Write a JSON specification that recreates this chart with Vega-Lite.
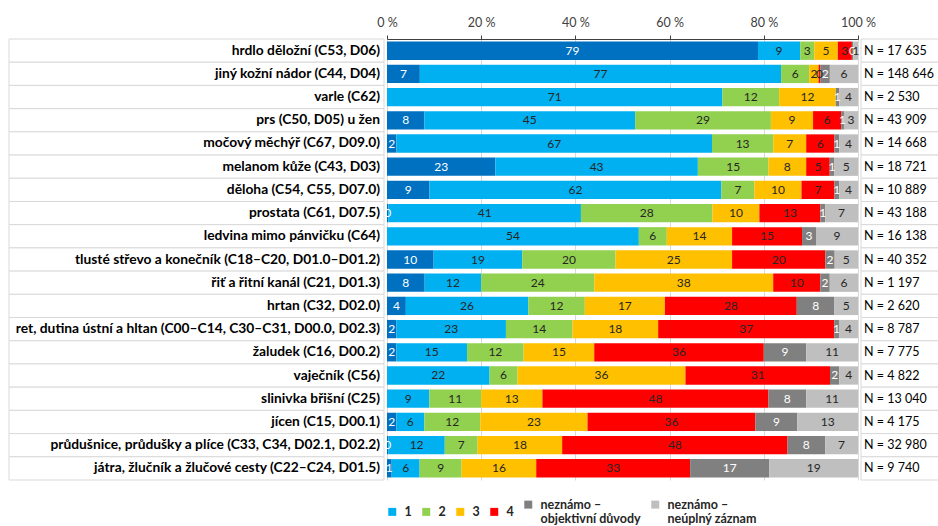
{
  "$schema": "https://vega.github.io/schema/vega-lite/v6.json",
  "background": "white",
  "padding": {"left": 8, "top": 16, "right": 0, "bottom": 0},
  "spacing": 3,
  "bounds": "flush",
  "config": {"view": {"stroke": null}, "font": "Lato"},
  "resolve": {"scale": {"y": "independent"}},
  "datasets": {
    "rows": [
      {"label": "hrdlo děložní (C53, D06)", "n": "N = 17 635"},
      {"label": "jiný kožní nádor (C44, D04)", "n": "N = 148 646"},
      {"label": "varle (C62)", "n": "N = 2 530"},
      {"label": "prs (C50, D05) u žen", "n": "N = 43 909"},
      {"label": "močový měchýř (C67, D09.0)", "n": "N = 14 668"},
      {"label": "melanom kůže (C43, D03)", "n": "N = 18 721"},
      {"label": "děloha (C54, C55, D07.0)", "n": "N = 10 889"},
      {"label": "prostata (C61, D07.5)", "n": "N = 43 188"},
      {"label": "ledvina mimo pánvičku (C64)", "n": "N = 16 138"},
      {"label": "tlusté střevo a konečník (C18–C20, D01.0–D01.2)", "n": "N = 40 352"},
      {"label": "řiť a řitní kanál (C21, D01.3)", "n": "N = 1 197"},
      {"label": "hrtan (C32, D02.0)", "n": "N = 2 620"},
      {"label": "ret, dutina ústní a hltan (C00–C14, C30–C31, D00.0, D02.3)", "n": "N = 8 787"},
      {"label": "žaludek (C16, D00.2)", "n": "N = 7 775"},
      {"label": "vaječník (C56)", "n": "N = 4 822"},
      {"label": "slinivka břišní (C25)", "n": "N = 13 040"},
      {"label": "jícen (C15, D00.1)", "n": "N = 4 175"},
      {"label": "průdušnice, průdušky a plíce (C33, C34, D02.1, D02.2)", "n": "N = 32 980"},
      {"label": "játra, žlučník a žlučové cesty (C22–C24, D01.5)", "n": "N = 9 740"}
    ],
    "seg": [
      {"label": "hrdlo děložní (C53, D06)", "cat": "0", "v": 79},
      {"label": "hrdlo děložní (C53, D06)", "cat": "1", "v": 9},
      {"label": "hrdlo děložní (C53, D06)", "cat": "2", "v": 3},
      {"label": "hrdlo děložní (C53, D06)", "cat": "3", "v": 5},
      {"label": "hrdlo děložní (C53, D06)", "cat": "4", "v": 3},
      {"label": "hrdlo děložní (C53, D06)", "cat": "neznámo – objektivní důvody", "v": 0.3},
      {"label": "hrdlo děložní (C53, D06)", "cat": "neznámo – neúplný záznam", "v": 1},

      {"label": "jiný kožní nádor (C44, D04)", "cat": "0", "v": 7},
      {"label": "jiný kožní nádor (C44, D04)", "cat": "1", "v": 77},
      {"label": "jiný kožní nádor (C44, D04)", "cat": "2", "v": 6},
      {"label": "jiný kožní nádor (C44, D04)", "cat": "3", "v": 2},
      {"label": "jiný kožní nádor (C44, D04)", "cat": "4", "v": 0.4},
      {"label": "jiný kožní nádor (C44, D04)", "cat": "neznámo – objektivní důvody", "v": 2},
      {"label": "jiný kožní nádor (C44, D04)", "cat": "neznámo – neúplný záznam", "v": 6},

      {"label": "varle (C62)", "cat": "1", "v": 71},
      {"label": "varle (C62)", "cat": "2", "v": 12},
      {"label": "varle (C62)", "cat": "3", "v": 12},
      {"label": "varle (C62)", "cat": "neznámo – objektivní důvody", "v": 0.7},
      {"label": "varle (C62)", "cat": "neznámo – neúplný záznam", "v": 4},

      {"label": "prs (C50, D05) u žen", "cat": "0", "v": 8},
      {"label": "prs (C50, D05) u žen", "cat": "1", "v": 45},
      {"label": "prs (C50, D05) u žen", "cat": "2", "v": 29},
      {"label": "prs (C50, D05) u žen", "cat": "3", "v": 9},
      {"label": "prs (C50, D05) u žen", "cat": "4", "v": 6},
      {"label": "prs (C50, D05) u žen", "cat": "neznámo – objektivní důvody", "v": 0.6},
      {"label": "prs (C50, D05) u žen", "cat": "neznámo – neúplný záznam", "v": 3},

      {"label": "močový měchýř (C67, D09.0)", "cat": "0", "v": 2},
      {"label": "močový měchýř (C67, D09.0)", "cat": "1", "v": 67},
      {"label": "močový měchýř (C67, D09.0)", "cat": "2", "v": 13},
      {"label": "močový měchýř (C67, D09.0)", "cat": "3", "v": 7},
      {"label": "močový měchýř (C67, D09.0)", "cat": "4", "v": 6},
      {"label": "močový měchýř (C67, D09.0)", "cat": "neznámo – objektivní důvody", "v": 1},
      {"label": "močový měchýř (C67, D09.0)", "cat": "neznámo – neúplný záznam", "v": 4},

      {"label": "melanom kůže (C43, D03)", "cat": "0", "v": 23},
      {"label": "melanom kůže (C43, D03)", "cat": "1", "v": 43},
      {"label": "melanom kůže (C43, D03)", "cat": "2", "v": 15},
      {"label": "melanom kůže (C43, D03)", "cat": "3", "v": 8},
      {"label": "melanom kůže (C43, D03)", "cat": "4", "v": 5},
      {"label": "melanom kůže (C43, D03)", "cat": "neznámo – objektivní důvody", "v": 1},
      {"label": "melanom kůže (C43, D03)", "cat": "neznámo – neúplný záznam", "v": 5},

      {"label": "děloha (C54, C55, D07.0)", "cat": "0", "v": 9},
      {"label": "děloha (C54, C55, D07.0)", "cat": "1", "v": 62},
      {"label": "děloha (C54, C55, D07.0)", "cat": "2", "v": 7},
      {"label": "děloha (C54, C55, D07.0)", "cat": "3", "v": 10},
      {"label": "děloha (C54, C55, D07.0)", "cat": "4", "v": 7},
      {"label": "děloha (C54, C55, D07.0)", "cat": "neznámo – objektivní důvody", "v": 1},
      {"label": "děloha (C54, C55, D07.0)", "cat": "neznámo – neúplný záznam", "v": 4},

      {"label": "prostata (C61, D07.5)", "cat": "0", "v": 0.3},
      {"label": "prostata (C61, D07.5)", "cat": "1", "v": 41},
      {"label": "prostata (C61, D07.5)", "cat": "2", "v": 28},
      {"label": "prostata (C61, D07.5)", "cat": "3", "v": 10},
      {"label": "prostata (C61, D07.5)", "cat": "4", "v": 13},
      {"label": "prostata (C61, D07.5)", "cat": "neznámo – objektivní důvody", "v": 1},
      {"label": "prostata (C61, D07.5)", "cat": "neznámo – neúplný záznam", "v": 7},

      {"label": "ledvina mimo pánvičku (C64)", "cat": "1", "v": 54},
      {"label": "ledvina mimo pánvičku (C64)", "cat": "2", "v": 6},
      {"label": "ledvina mimo pánvičku (C64)", "cat": "3", "v": 14},
      {"label": "ledvina mimo pánvičku (C64)", "cat": "4", "v": 15},
      {"label": "ledvina mimo pánvičku (C64)", "cat": "neznámo – objektivní důvody", "v": 3},
      {"label": "ledvina mimo pánvičku (C64)", "cat": "neznámo – neúplný záznam", "v": 9},

      {"label": "tlusté střevo a konečník (C18–C20, D01.0–D01.2)", "cat": "0", "v": 10},
      {"label": "tlusté střevo a konečník (C18–C20, D01.0–D01.2)", "cat": "1", "v": 19},
      {"label": "tlusté střevo a konečník (C18–C20, D01.0–D01.2)", "cat": "2", "v": 20},
      {"label": "tlusté střevo a konečník (C18–C20, D01.0–D01.2)", "cat": "3", "v": 25},
      {"label": "tlusté střevo a konečník (C18–C20, D01.0–D01.2)", "cat": "4", "v": 20},
      {"label": "tlusté střevo a konečník (C18–C20, D01.0–D01.2)", "cat": "neznámo – objektivní důvody", "v": 2},
      {"label": "tlusté střevo a konečník (C18–C20, D01.0–D01.2)", "cat": "neznámo – neúplný záznam", "v": 5},

      {"label": "řiť a řitní kanál (C21, D01.3)", "cat": "0", "v": 8},
      {"label": "řiť a řitní kanál (C21, D01.3)", "cat": "1", "v": 12},
      {"label": "řiť a řitní kanál (C21, D01.3)", "cat": "2", "v": 24},
      {"label": "řiť a řitní kanál (C21, D01.3)", "cat": "3", "v": 38},
      {"label": "řiť a řitní kanál (C21, D01.3)", "cat": "4", "v": 10},
      {"label": "řiť a řitní kanál (C21, D01.3)", "cat": "neznámo – objektivní důvody", "v": 2},
      {"label": "řiť a řitní kanál (C21, D01.3)", "cat": "neznámo – neúplný záznam", "v": 6},

      {"label": "hrtan (C32, D02.0)", "cat": "0", "v": 4},
      {"label": "hrtan (C32, D02.0)", "cat": "1", "v": 26},
      {"label": "hrtan (C32, D02.0)", "cat": "2", "v": 12},
      {"label": "hrtan (C32, D02.0)", "cat": "3", "v": 17},
      {"label": "hrtan (C32, D02.0)", "cat": "4", "v": 28},
      {"label": "hrtan (C32, D02.0)", "cat": "neznámo – objektivní důvody", "v": 8},
      {"label": "hrtan (C32, D02.0)", "cat": "neznámo – neúplný záznam", "v": 5},

      {"label": "ret, dutina ústní a hltan (C00–C14, C30–C31, D00.0, D02.3)", "cat": "0", "v": 2},
      {"label": "ret, dutina ústní a hltan (C00–C14, C30–C31, D00.0, D02.3)", "cat": "1", "v": 23},
      {"label": "ret, dutina ústní a hltan (C00–C14, C30–C31, D00.0, D02.3)", "cat": "2", "v": 14},
      {"label": "ret, dutina ústní a hltan (C00–C14, C30–C31, D00.0, D02.3)", "cat": "3", "v": 18},
      {"label": "ret, dutina ústní a hltan (C00–C14, C30–C31, D00.0, D02.3)", "cat": "4", "v": 37},
      {"label": "ret, dutina ústní a hltan (C00–C14, C30–C31, D00.0, D02.3)", "cat": "neznámo – objektivní důvody", "v": 1},
      {"label": "ret, dutina ústní a hltan (C00–C14, C30–C31, D00.0, D02.3)", "cat": "neznámo – neúplný záznam", "v": 4},

      {"label": "žaludek (C16, D00.2)", "cat": "0", "v": 2},
      {"label": "žaludek (C16, D00.2)", "cat": "1", "v": 15},
      {"label": "žaludek (C16, D00.2)", "cat": "2", "v": 12},
      {"label": "žaludek (C16, D00.2)", "cat": "3", "v": 15},
      {"label": "žaludek (C16, D00.2)", "cat": "4", "v": 36},
      {"label": "žaludek (C16, D00.2)", "cat": "neznámo – objektivní důvody", "v": 9},
      {"label": "žaludek (C16, D00.2)", "cat": "neznámo – neúplný záznam", "v": 11},

      {"label": "vaječník (C56)", "cat": "1", "v": 22},
      {"label": "vaječník (C56)", "cat": "2", "v": 6},
      {"label": "vaječník (C56)", "cat": "3", "v": 36},
      {"label": "vaječník (C56)", "cat": "4", "v": 31},
      {"label": "vaječník (C56)", "cat": "neznámo – objektivní důvody", "v": 2},
      {"label": "vaječník (C56)", "cat": "neznámo – neúplný záznam", "v": 4},

      {"label": "slinivka břišní (C25)", "cat": "1", "v": 9},
      {"label": "slinivka břišní (C25)", "cat": "2", "v": 11},
      {"label": "slinivka břišní (C25)", "cat": "3", "v": 13},
      {"label": "slinivka břišní (C25)", "cat": "4", "v": 48},
      {"label": "slinivka břišní (C25)", "cat": "neznámo – objektivní důvody", "v": 8},
      {"label": "slinivka břišní (C25)", "cat": "neznámo – neúplný záznam", "v": 11},

      {"label": "jícen (C15, D00.1)", "cat": "0", "v": 2},
      {"label": "jícen (C15, D00.1)", "cat": "1", "v": 6},
      {"label": "jícen (C15, D00.1)", "cat": "2", "v": 12},
      {"label": "jícen (C15, D00.1)", "cat": "3", "v": 23},
      {"label": "jícen (C15, D00.1)", "cat": "4", "v": 36},
      {"label": "jícen (C15, D00.1)", "cat": "neznámo – objektivní důvody", "v": 9},
      {"label": "jícen (C15, D00.1)", "cat": "neznámo – neúplný záznam", "v": 13},

      {"label": "průdušnice, průdušky a plíce (C33, C34, D02.1, D02.2)", "cat": "0", "v": 0.3},
      {"label": "průdušnice, průdušky a plíce (C33, C34, D02.1, D02.2)", "cat": "1", "v": 12},
      {"label": "průdušnice, průdušky a plíce (C33, C34, D02.1, D02.2)", "cat": "2", "v": 7},
      {"label": "průdušnice, průdušky a plíce (C33, C34, D02.1, D02.2)", "cat": "3", "v": 18},
      {"label": "průdušnice, průdušky a plíce (C33, C34, D02.1, D02.2)", "cat": "4", "v": 48},
      {"label": "průdušnice, průdušky a plíce (C33, C34, D02.1, D02.2)", "cat": "neznámo – objektivní důvody", "v": 8},
      {"label": "průdušnice, průdušky a plíce (C33, C34, D02.1, D02.2)", "cat": "neznámo – neúplný záznam", "v": 7},

      {"label": "játra, žlučník a žlučové cesty (C22–C24, D01.5)", "cat": "0", "v": 1},
      {"label": "játra, žlučník a žlučové cesty (C22–C24, D01.5)", "cat": "1", "v": 6},
      {"label": "játra, žlučník a žlučové cesty (C22–C24, D01.5)", "cat": "2", "v": 9},
      {"label": "játra, žlučník a žlučové cesty (C22–C24, D01.5)", "cat": "3", "v": 16},
      {"label": "játra, žlučník a žlučové cesty (C22–C24, D01.5)", "cat": "4", "v": 33},
      {"label": "játra, žlučník a žlučové cesty (C22–C24, D01.5)", "cat": "neznámo – objektivní důvody", "v": 17},
      {"label": "játra, žlučník a žlučové cesty (C22–C24, D01.5)", "cat": "neznámo – neúplný záznam", "v": 19}
    ]
  },
  "hconcat": [
    {
      "width": 375,
      "height": 441,
      "data": {"name": "rows"},
      "encoding": {
        "y": {"field": "label", "type": "nominal", "sort": null, "axis": null, "scale": {"paddingInner": 0, "paddingOuter": 0}}
      },
      "layer": [
        {"mark": {"type": "rect", "fill": "white", "stroke": "#d9d9d9", "strokeWidth": 1}},
        {
          "mark": {"type": "text", "align": "right", "dx": -4, "fontWeight": "bold", "fontSize": 13.8, "font": "Lato", "color": "#000000"},
          "encoding": {
            "x": {"datum": 1, "type": "quantitative", "scale": {"domain": [0, 1]}, "axis": null},
            "text": {"field": "label"}
          }
        }
      ]
    },
    {
      "width": 471,
      "height": 441,
      "data": {"name": "seg"},
      "transform": [
        {"calculate": "indexof(['0','1','2','3','4','neznámo – objektivní důvody','neznámo – neúplný záznam'], datum.cat)", "as": "k"},
        {"stack": "v", "groupby": ["label"], "sort": [{"field": "k", "order": "ascending"}], "offset": "normalize", "as": ["x0", "x1"]},
        {"calculate": "(datum.x0 + datum.x1) / 2", "as": "mid"}
      ],
      "encoding": {
        "y": {"field": "label", "type": "nominal", "sort": null, "axis": null, "scale": {"paddingInner": 0.21, "paddingOuter": 0.11}}
      },
      "layer": [
        {
          "mark": {"type": "bar"},
          "encoding": {
            "x": {
              "field": "x0", "type": "quantitative", "scale": {"domain": [0, 1], "nice": false},
              "axis": {
                "orient": "top", "title": null, "values": [0, 0.2, 0.4, 0.6, 0.8, 1],
                "labelExpr": "format(datum.value * 100, 'd') + ' %'",
                "grid": true, "gridColor": "#d9d9d9", "gridWidth": 1,
                "domainColor": "#404040", "tickColor": "#404040", "tickSize": 4,
                "labelPadding": 6, "labelFontSize": 12.5, "labelColor": "#404040", "labelFont": "Lato", "labelFlush": false
              }
            },
            "x2": {"field": "x1"},
            "color": {
              "field": "cat", "type": "nominal",
              "scale": {
                "domain": ["0", "1", "2", "3", "4", "neznámo – objektivní důvody", "neznámo – neúplný záznam"],
                "range": ["#0070C0", "#00B0F0", "#92D050", "#FFC000", "#FF0000", "#808080", "#BFBFBF"]
              },
              "legend": {
                "orient": "none", "legendX": 377, "legendY": 459, "direction": "horizontal",
                "values": ["1", "2", "3", "4", "neznámo – objektivní důvody", "neznámo – neúplný záznam"],
                "title": null, "symbolType": "square", "symbolSize": 64, "symbolStrokeWidth": 0,
                "labelFont": "Lato", "labelFontWeight": "bold", "labelFontSize": 12.5, "labelColor": "#262626",
                "labelOffset": 6, "columnPadding": 8, "labelLimit": 200,
                "labelExpr": "datum.label == 'neznámo – objektivní důvody' ? ['neznámo –', 'objektivní důvody'] : datum.label == 'neznámo – neúplný záznam' ? ['neznámo –', 'neúplný záznam'] : datum.label"
              }
            }
          }
        },
        {
          "mark": {"type": "text", "fontSize": 12, "font": "Lato"},
          "encoding": {
            "x": {"field": "mid", "type": "quantitative"},
            "text": {"field": "v", "type": "quantitative", "format": ".0f"},
            "color": {"condition": {"test": "datum.k == 0 || datum.k == 5", "value": "#ffffff"}, "value": "#262626"}
          }
        }
      ]
    },
    {
      "width": 78,
      "height": 441,
      "data": {"name": "rows"},
      "encoding": {
        "y": {"field": "label", "type": "nominal", "sort": null, "axis": null, "scale": {"paddingInner": 0, "paddingOuter": 0}}
      },
      "layer": [
        {"mark": {"type": "rect", "fill": "white", "stroke": "#d9d9d9", "strokeWidth": 1}},
        {
          "mark": {"type": "text", "align": "left", "dx": 3, "fontSize": 12.5, "font": "Lato", "color": "#000000"},
          "encoding": {
            "x": {"datum": 0, "type": "quantitative", "scale": {"domain": [0, 1]}, "axis": null},
            "text": {"field": "n"}
          }
        }
      ]
    }
  ]
}
